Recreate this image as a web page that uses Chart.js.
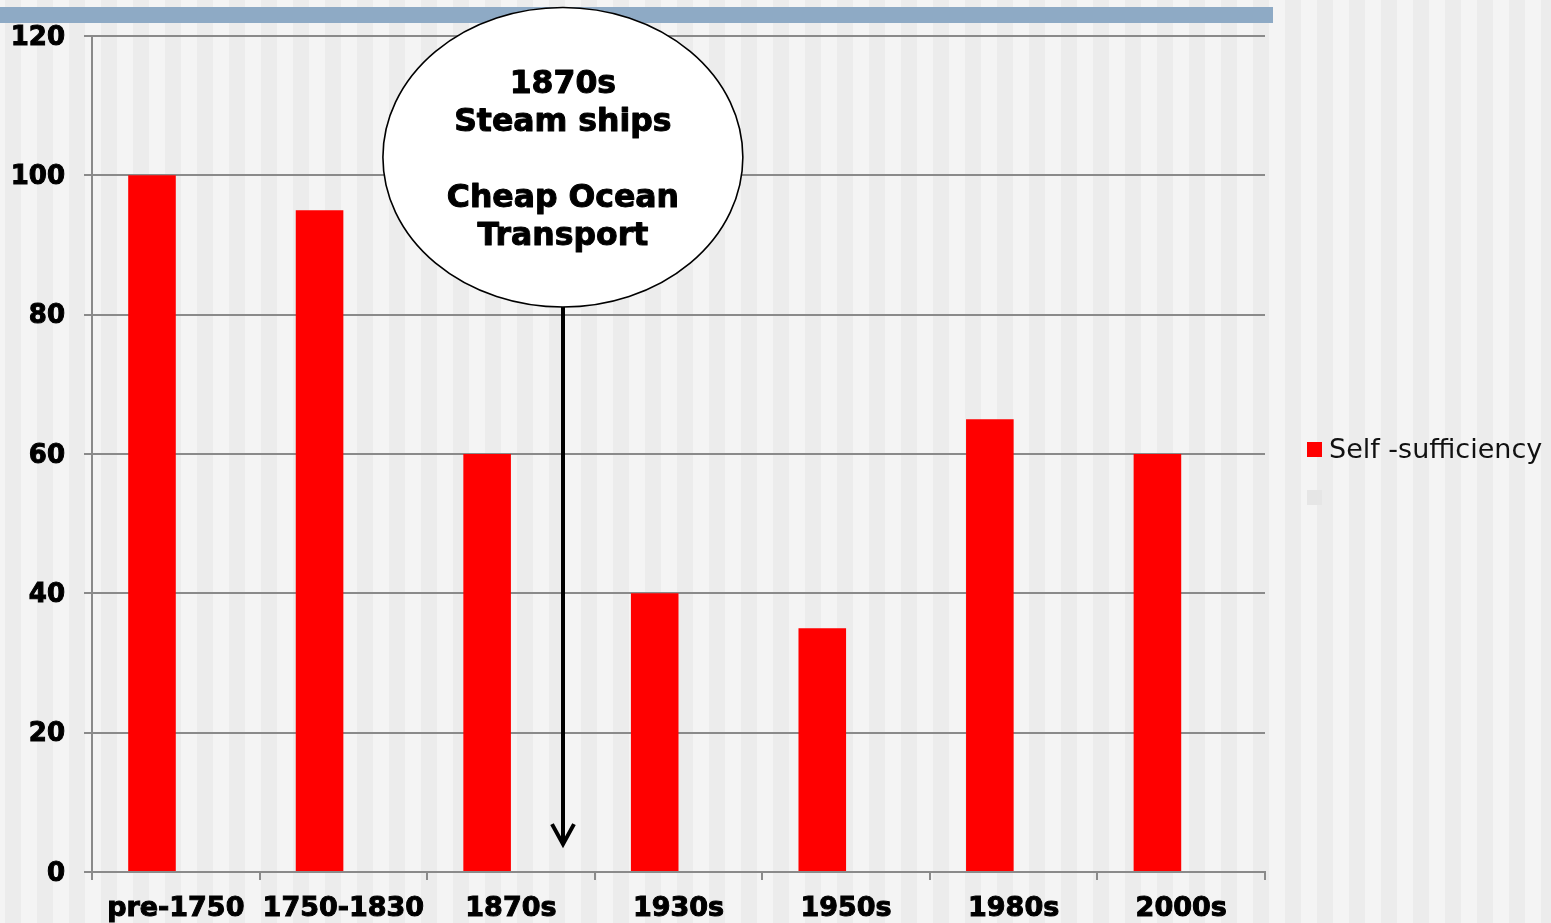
<!DOCTYPE html>
<html>
<head>
<meta charset="utf-8">
<script src="https://cdn.jsdelivr.net/npm/chart.js@4.4.0/dist/chart.umd.min.js"></script>
<style>
  html, body { margin: 0; padding: 0; background: #f4f4f4; overflow: hidden; }
  #wrap { width: 1551px; height: 923px; position: relative; }
</style>
</head>
<body>
<div id="wrap"><canvas id="chart"></canvas></div>
<script>
// Self-sufficiency index by period
const periods = ['pre-1750', '1750-1830', '1870s', '1930s', '1950s', '1980s', '2000s'];
const selfSufficiency = [100, 95, 60, 40, 35, 65, 60];
const placeholderSeries = [null, null, null, null, null, null, null];
const seriesNames = ['Self -sufficiency', ''];
const yTickValues = [0, 20, 40, 60, 80, 100, 120];

// Callout text and where it sits (category position, value)
const calloutLines = ['1870s', 'Steam ships', '', 'Cheap Ocean', 'Transport'];
const calloutCenter = { index: 2.31, value: 102.6 };
const calloutRadius = { categories: 1.074, units: 21.5 };
const arrowTipValue = 4;

const FONT = '"DejaVu Sans", Verdana, sans-serif';
const GRID = '#8a8a8a';

// Striped backdrop and the blue header band
const backdrop = {
  id: 'backdrop',
  beforeDraw(chart) {
    const { ctx, width, height, chartArea } = chart;
    ctx.save();
    ctx.fillStyle = '#f4f4f4';
    ctx.fillRect(0, 0, width, height);
    ctx.fillStyle = '#ececec';
    for (let x = 5 - 32; x < width; x += 32) ctx.fillRect(x, 0, 16, height);
    ctx.fillStyle = '#8eaac5';
    ctx.fillRect(0, 7, chartArea.right + 8, 16);
    ctx.restore();
  }
};

// Ellipse callout with an arrow pointing down into the chart
const callout = {
  id: 'callout',
  afterDraw(chart) {
    const { ctx } = chart;
    const xs = chart.scales.x, ys = chart.scales.y;
    const step = xs.getPixelForValue(1) - xs.getPixelForValue(0);
    const cx = xs.getPixelForValue(0) + calloutCenter.index * step;
    const cy = ys.getPixelForValue(calloutCenter.value);
    const rx = calloutRadius.categories * step;
    const ry = ys.getPixelForValue(0) - ys.getPixelForValue(calloutRadius.units);
    const tipY = ys.getPixelForValue(arrowTipValue);
    const ax = Math.round(cx);

    ctx.save();
    // arrow shaft + open head
    ctx.strokeStyle = '#000';
    ctx.lineWidth = 4;
    ctx.beginPath();
    ctx.moveTo(ax, cy + ry);
    ctx.lineTo(ax, tipY - 2);
    ctx.stroke();
    ctx.beginPath();
    ctx.moveTo(ax - 11, tipY - 20);
    ctx.lineTo(ax, tipY);
    ctx.lineTo(ax + 11, tipY - 20);
    ctx.lineJoin = 'miter';
    ctx.stroke();

    // ellipse
    ctx.beginPath();
    ctx.ellipse(cx, cy, rx, ry, 0, 0, Math.PI * 2);
    ctx.fillStyle = '#ffffff';
    ctx.fill();
    ctx.lineWidth = 1.6;
    ctx.strokeStyle = '#000';
    ctx.stroke();

    // text
    ctx.fillStyle = '#000';
    ctx.strokeStyle = '#000';
    ctx.lineWidth = 1;
    ctx.lineJoin = 'round';
    ctx.font = 'bold 31.5px ' + FONT;
    ctx.textAlign = 'center';
    ctx.textBaseline = 'alphabetic';
    const lh = 38;
    const firstBase = cy - 64;
    calloutLines.forEach((t, i) => {
      if (t) {
        ctx.strokeText(t, cx, firstBase + i * lh);
        ctx.fillText(t, cx, firstBase + i * lh);
      }
    });
    ctx.restore();
  }
};

// Legend at the right of the plot
const sideLegend = {
  id: 'sideLegend',
  afterDraw(chart) {
    const { ctx, chartArea } = chart;
    const x0 = chartArea.right + 42;
    const yMid = (chartArea.top + chartArea.bottom) / 2 - 4.5;
    ctx.save();
    ctx.font = '27px ' + FONT;
    ctx.textBaseline = 'middle';
    ctx.textAlign = 'left';
    chart.data.datasets.forEach((ds, i) => {
      const y = yMid + i * 48;
      ctx.fillStyle = ds.backgroundColor;
      ctx.fillRect(x0, Math.round(y - 7.5), 15, 15);
      if (ds.label) {
        ctx.fillStyle = '#111';
        ctx.fillText(ds.label, x0 + 22, y + 1);
      }
    });
    ctx.restore();
  }
};

const tickFont = (size) => ({ family: FONT, size, weight: 'bold' });

new Chart(document.getElementById('chart'), {
  type: 'bar',
  data: {
    labels: periods,
    datasets: [
      { label: seriesNames[0], data: selfSufficiency, backgroundColor: '#ff0000',
        categoryPercentage: 0.568, barPercentage: 1.0 },
      { label: seriesNames[1], data: placeholderSeries, backgroundColor: '#e6e6e6',
        categoryPercentage: 0.568, barPercentage: 1.0 }
    ]
  },
  options: {
    responsive: true,
    maintainAspectRatio: false,
    animation: false,
    layout: { padding: { left: 11, right: 286, top: 36, bottom: 0 } },
    plugins: {
      legend: { display: false },
      tooltip: { enabled: false }
    },
    scales: {
      x: {
        afterFit(scale) { scale.height = 51; },
        grid: { display: true, drawOnChartArea: false, drawTicks: true, tickLength: 8,
                offset: true, color: GRID, lineWidth: 2 },
        border: { display: true, color: GRID, width: 2 },
        ticks: { color: '#000', padding: 13, font: tickFont(27),
                 textStrokeColor: '#000', textStrokeWidth: 1 }
      },
      y: {
        min: 0, max: 120,
        afterFit(scale) { scale.width = 81; },
        afterBuildTicks(axis) { axis.ticks = yTickValues.map(v => ({ value: v })); },
        grid: { color: GRID, lineWidth: 2, tickLength: 8 },
        border: { display: true, color: GRID, width: 2 },
        ticks: { color: '#000', padding: 19, labelOffset: 2, font: tickFont(26),
                 textStrokeColor: '#000', textStrokeWidth: 1 }
      }
    }
  },
  plugins: [backdrop, callout, sideLegend]
});
</script>
</body>
</html>
